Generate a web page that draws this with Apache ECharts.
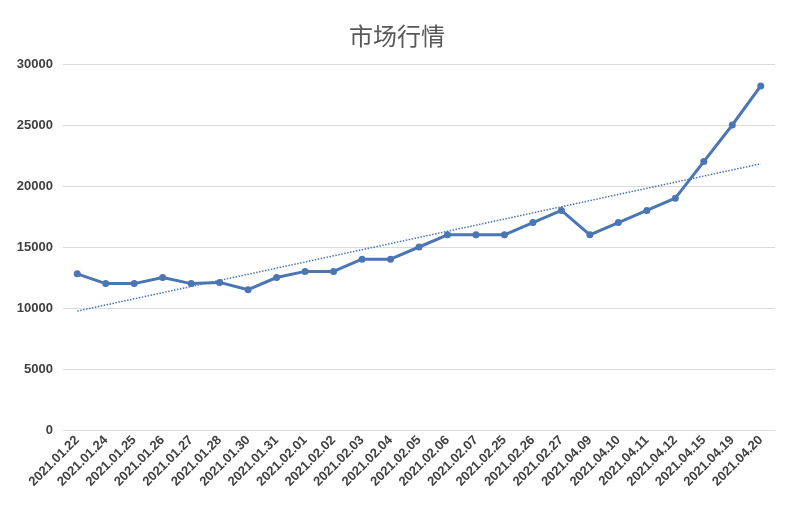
<!DOCTYPE html>
<html><head><meta charset="utf-8">
<script src="https://cdn.jsdelivr.net/npm/echarts@6/dist/echarts.min.js"></script>
<style>html,body{margin:0;padding:0;background:#fff}#c{width:794px;height:522px}</style>
</head><body><div id="c"></div>
<script>
const categories=['2021.01.22','2021.01.24','2021.01.25','2021.01.26','2021.01.27','2021.01.28','2021.01.30','2021.01.31','2021.02.01','2021.02.02','2021.02.03','2021.02.04','2021.02.05','2021.02.06','2021.02.07','2021.02.25','2021.02.26','2021.02.27','2021.04.09','2021.04.10','2021.04.11','2021.04.12','2021.04.15','2021.04.19','2021.04.20'];
const values=[12800,12000,12000,12500,12000,12100,11500,12500,13000,13000,14000,14000,15000,16000,16000,16000,17000,18000,16000,17000,18000,19000,22000,25000,28200];
const title='市场行情';
const n=values.length;let sx=0,sy=0,sxy=0,sxx=0;
values.forEach((v,i)=>{sx+=i;sy+=v;sxy+=i*v;sxx+=i*i;});
const slope=(n*sxy-sx*sy)/(n*sxx-sx*sx),icpt=(sy-slope*sx)/n;
const trend=values.map((v,i)=>icpt+slope*i);
const chart=echarts.init(document.getElementById('c'));
chart.setOption({
  animation:false,
  title:{text:title,left:'center',top:19,textStyle:{fontFamily:'Noto Sans CJK SC',fontSize:24,fontWeight:'normal',color:'#595959'}},
  grid:{left:63,right:19,top:64,bottom:92},
  xAxis:{type:'category',data:categories,boundaryGap:true,
    axisLine:{lineStyle:{color:'#d9d9d9'}},axisTick:{show:false},
    axisLabel:{rotate:45,interval:0,color:'#404040',fontSize:13,fontWeight:'bold',fontFamily:'Liberation Sans',margin:8}},
  yAxis:{type:'value',min:0,max:30000,interval:5000,
    axisLine:{show:false},axisTick:{show:false},
    splitLine:{lineStyle:{color:'#d9d9d9'}},
    axisLabel:{formatter:v=>String(v),color:'#404040',fontSize:13,fontWeight:'bold',fontFamily:'Liberation Sans',margin:10}},
  series:[
    {type:'line',data:values,symbol:'circle',symbolSize:7,lineStyle:{color:'#4a76b4',width:3},itemStyle:{color:'#4a76b4'}},
    {type:'line',data:trend,symbol:'none',lineStyle:{color:'#4a76b4',width:1.5,type:'dotted'}}
  ]
});
</script></body></html>
